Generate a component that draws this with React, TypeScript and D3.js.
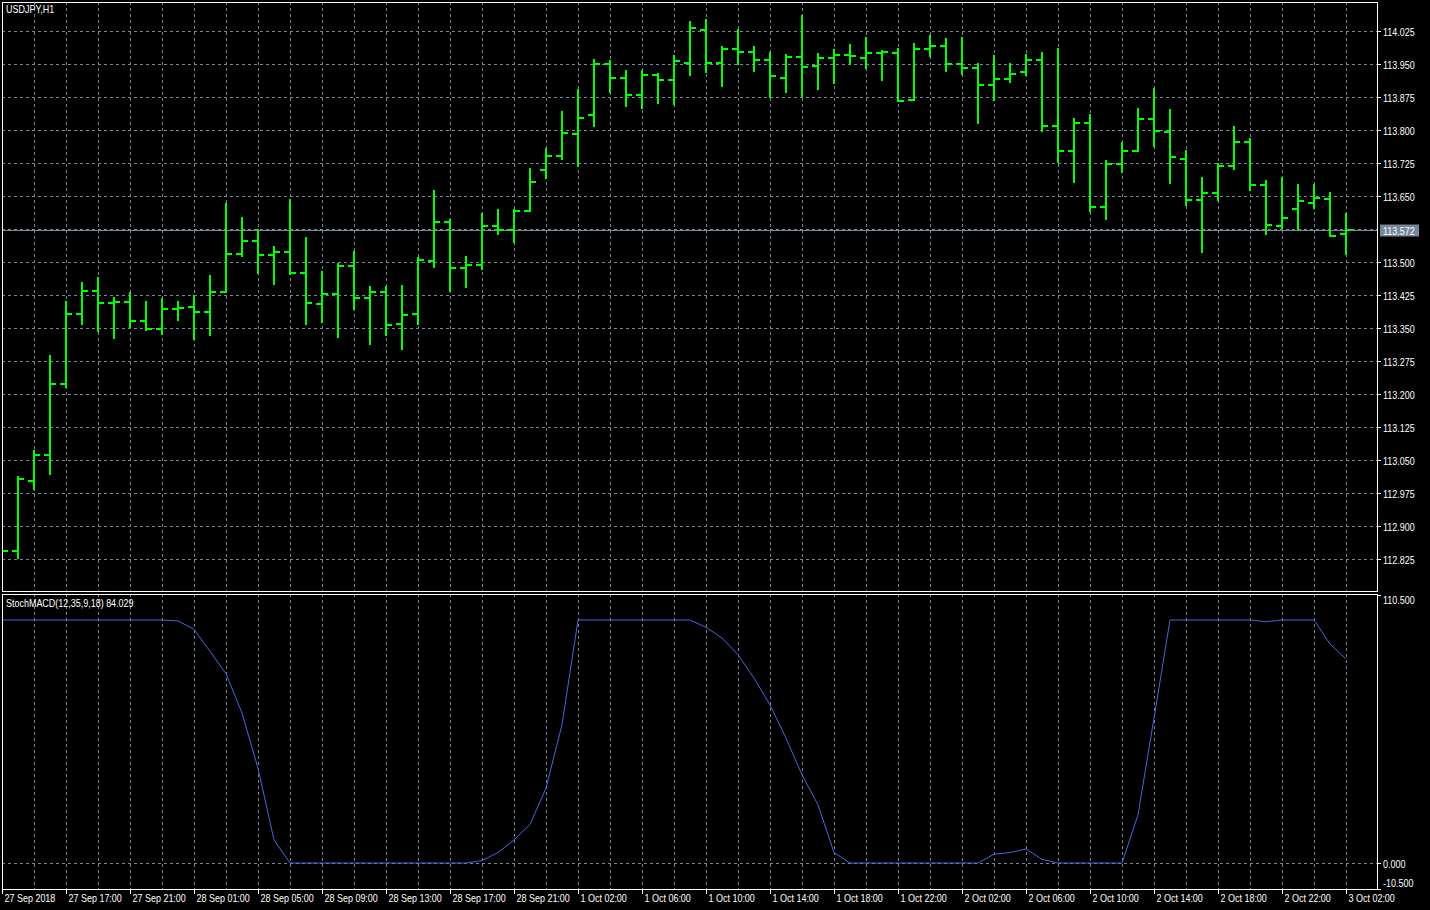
import React from 'react';
import * as d3 from 'd3';

const symbolTitle = 'USDJPY,H1';
const indicatorTitle = 'StochMACD(12,35,9,18) 84.029';
const bidPrice = 113.572;

const opens = [
  112.843, 112.843, 113.002, 113.061, 113.222, 113.381, 113.434, 113.406, 113.408, 113.365,
  113.347, 113.394, 113.397, 113.386, 113.432, 113.519, 113.547, 113.517, 113.522, 113.474,
  113.404, 113.427, 113.490, 113.418, 113.432, 113.359, 113.382, 113.503, 113.592, 113.486,
  113.493, 113.581, 113.572, 113.615, 113.708, 113.740, 113.791, 113.833, 113.949, 113.919,
  113.879, 113.924, 113.913, 113.953, 114.028, 113.953, 113.985, 113.978, 113.960, 113.919,
  113.967, 113.946, 113.963, 113.971, 113.963, 113.976, 113.976, 113.869, 113.985, 113.992,
  113.949, 113.942, 113.903, 113.915, 113.931, 113.958, 113.808, 113.753, 113.815, 113.624,
  113.722, 113.753, 113.824, 113.795, 113.735, 113.642, 113.656, 113.718, 113.772, 113.676,
  113.581, 113.620, 113.635, 113.643, 113.563,
];
const highs = [
  112.846, 113.012, 113.071, 113.287, 113.408, 113.453, 113.463, 113.418, 113.430, 113.408,
  113.416, 113.410, 113.422, 113.468, 113.632, 113.601, 113.573, 113.533, 113.641, 113.555,
  113.478, 113.496, 113.522, 113.444, 113.444, 113.446, 113.508, 113.662, 113.596, 113.512,
  113.610, 113.619, 113.619, 113.712, 113.757, 113.841, 113.892, 113.960, 113.957, 113.934,
  113.934, 113.928, 113.969, 114.046, 114.049, 113.989, 114.028, 113.989, 113.975, 113.971,
  114.059, 113.973, 113.981, 113.993, 114.008, 113.979, 113.985, 113.996, 114.014, 114.007,
  114.010, 113.950, 113.969, 113.951, 113.970, 113.975, 113.985, 113.825, 113.834, 113.730,
  113.771, 113.848, 113.893, 113.846, 113.752, 113.691, 113.722, 113.806, 113.780, 113.684,
  113.692, 113.675, 113.674, 113.657, 113.608,
];
const lows = [
  112.840, 112.827, 112.983, 113.018, 113.216, 113.358, 113.343, 113.327, 113.352, 113.346,
  113.337, 113.368, 113.324, 113.334, 113.431, 113.513, 113.474, 113.451, 113.473, 113.358,
  113.363, 113.329, 113.393, 113.313, 113.335, 113.303, 113.358, 113.488, 113.434, 113.444,
  113.484, 113.563, 113.545, 113.615, 113.690, 113.735, 113.719, 113.808, 113.887, 113.854,
  113.849, 113.861, 113.858, 113.924, 113.931, 113.899, 113.951, 113.934, 113.875, 113.886,
  113.878, 113.893, 113.906, 113.949, 113.940, 113.913, 113.866, 113.869, 113.969, 113.935,
  113.928, 113.817, 113.868, 113.910, 113.924, 113.797, 113.728, 113.681, 113.616, 113.597,
  113.704, 113.752, 113.763, 113.679, 113.629, 113.523, 113.640, 113.711, 113.663, 113.563,
  113.578, 113.575, 113.623, 113.560, 113.518,
];
const closes = [
  112.843, 113.006, 113.061, 113.222, 113.381, 113.434, 113.406, 113.410, 113.365, 113.347,
  113.394, 113.396, 113.386, 113.432, 113.519, 113.547, 113.517, 113.522, 113.474, 113.406,
  113.427, 113.490, 113.418, 113.432, 113.356, 113.379, 113.505, 113.592, 113.487, 113.493,
  113.581, 113.572, 113.615, 113.681, 113.740, 113.793, 113.828, 113.949, 113.919, 113.879,
  113.924, 113.913, 113.957, 114.031, 113.953, 113.983, 113.978, 113.960, 113.922, 113.967,
  113.944, 113.963, 113.971, 113.969, 113.976, 113.978, 113.867, 113.985, 113.990, 113.949,
  113.940, 113.903, 113.915, 113.928, 113.958, 113.808, 113.753, 113.815, 113.624, 113.722,
  113.752, 113.824, 113.797, 113.738, 113.642, 113.656, 113.718, 113.772, 113.676, 113.583,
  113.600, 113.638, 113.646, 113.560, 113.572,
];

const stochMacd = [
  100, 100, 100, 100, 100, 100, 100, 100, 100, 100,
  100, 99.6, 96.2, 87.1, 77.9, 61.7, 39.0, 9.5, 0, 0,
  0, 0, 0, 0, 0, 0, 0, 0, 0, 0,
  1.0, 4.3, 9.5, 15.9, 30.8, 56.9, 100, 100, 100, 100,
  100, 100, 100, 100, 97.0, 92.6, 85.7, 76.1, 65.1, 51.4,
  36.3, 23.9, 4.3, 0, 0, 0, 0, 0, 0, 0,
  0, 0, 3.6, 4.3, 5.8, 1.5, 0, 0, 0, 0,
  0, 19.8, 59.6, 100, 100, 100, 100, 100, 100, 99.3,
  100, 100, 100, 90.1, 84.029,
];

const timeLabels = [
  '27 Sep 2018', '27 Sep 17:00', '27 Sep 21:00', '28 Sep 01:00', '28 Sep 05:00', '28 Sep 09:00',
  '28 Sep 13:00', '28 Sep 17:00', '28 Sep 21:00', '1 Oct 02:00', '1 Oct 06:00', '1 Oct 10:00',
  '1 Oct 14:00', '1 Oct 18:00', '1 Oct 22:00', '2 Oct 02:00', '2 Oct 06:00', '2 Oct 10:00',
  '2 Oct 14:00', '2 Oct 18:00', '2 Oct 22:00', '3 Oct 02:00',
];

const priceTicks = [
  114.025, 113.95, 113.875, 113.8, 113.725, 113.65, 113.575, 113.5, 113.425, 113.35,
  113.275, 113.2, 113.125, 113.05, 112.975, 112.9, 112.825,
];
const priceLabels = [
  '114.025', '113.950', '113.875', '113.800', '113.725', '113.650', '', '113.500', '113.425', '113.350',
  '113.275', '113.200', '113.125', '113.050', '112.975', '112.900', '112.825',
];
const indTicks = [110.5, 0, -10.5];
const indLabels = ['110.500', '0.000', '-10.500'];

const W = 1430;
const H = 910;
const LEFT = 2;
const RIGHT = 1377;
const P_TOP = 2;
const P_BOTTOM = 591;
const I_TOP = 594;
const I_BOTTOM = 889;
const GRID = '#778899';
const FONT = '"Liberation Sans", Arial, sans-serif';

function Txt(props: { x: number; y: number; children: React.ReactNode; fill?: string; middle?: boolean }) {
  const { x, y, children, fill = '#fff', middle = false } = props;
  return (
    <text
      transform={`translate(${x},${y}) scale(0.88,1)`}
      fill={fill}
      fontSize={10.2}
      dominantBaseline={middle ? 'middle' : undefined}
    >
      {children}
    </text>
  );
}

export default function App() {
  const n = closes.length;
  const x = d3.scaleLinear().domain([0, n - 1]).range([2, 2 + 16 * (n - 1)]);
  const yP = d3.scaleLinear().domain([112.825, 114.025]).range([559, 31]);
  const yI = d3.scaleLinear().domain([0, 100]).range([863, 620]);

  const gridXs = d3.range(2, n, 2).map((i) => Math.round(x(i)) + 0.5);
  const line = d3
    .line<number>()
    .x((_, i) => x(i))
    .y((d) => yI(d));

  const bidY = Math.round(yP(bidPrice)) + 0.5;

  return (
    <svg
      width={W}
      height={H}
      style={{ position: 'fixed', left: 0, top: 0, background: '#000', display: 'block' }}
      fontFamily={FONT}
    >
      <defs>
        <clipPath id="pclip">
          <rect x={LEFT + 1} y={P_TOP + 1} width={RIGHT - LEFT - 1} height={P_BOTTOM - P_TOP - 1} />
        </clipPath>
        <clipPath id="iclip">
          <rect x={LEFT + 1} y={I_TOP + 1} width={RIGHT - LEFT - 1} height={I_BOTTOM - I_TOP - 1} />
        </clipPath>
      </defs>
      <rect x={0} y={0} width={W} height={H} fill="#000" />

      {/* price panel grid */}
      <g clipPath="url(#pclip)" shapeRendering="crispEdges">
        {priceTicks.map((p, k) => (
          <line
            key={'ph' + k}
            x1={LEFT}
            x2={RIGHT}
            y1={Math.round(yP(p)) + 0.5}
            y2={Math.round(yP(p)) + 0.5}
            stroke={GRID}
            strokeDasharray="3,3"
          />
        ))}
        {gridXs.map((gx, k) => (
          <line key={'pv' + k} x1={gx} x2={gx} y1={P_TOP} y2={P_BOTTOM} stroke={GRID} strokeDasharray="3,3" />
        ))}
        <line x1={LEFT} x2={RIGHT} y1={bidY} y2={bidY} stroke={GRID} strokeWidth={1} />
        {closes.map((c, i) => {
          const bx = Math.round(x(i));
          const yo = Math.round(yP(opens[i]));
          const yc = Math.round(yP(c));
          const yh = Math.round(yP(highs[i]));
          const yl = Math.round(yP(lows[i]));
          return (
            <g key={'b' + i} stroke="#00FF00" strokeWidth={2}>
              <line x1={bx} x2={bx} y1={yh - 1} y2={yl + 1} />
              <line x1={bx - 6} x2={bx} y1={yo} y2={yo} />
              <line x1={bx} x2={bx + 6} y1={yc} y2={yc} />
            </g>
          );
        })}
      </g>

      {/* indicator panel grid + line */}
      <g clipPath="url(#iclip)">
        <g shapeRendering="crispEdges">
          {gridXs.map((gx, k) => (
            <line key={'iv' + k} x1={gx} x2={gx} y1={I_TOP} y2={I_BOTTOM} stroke={GRID} strokeDasharray="3,3" />
          ))}
          <line
            x1={LEFT}
            x2={RIGHT}
            y1={Math.round(yI(0)) + 0.5}
            y2={Math.round(yI(0)) + 0.5}
            stroke={GRID}
            strokeDasharray="3,3"
          />
        </g>
        <path d={line(stochMacd) || ''} fill="none" stroke="#4169E1" strokeWidth={1} />
      </g>

      {/* frames */}
      <g shapeRendering="crispEdges" fill="none" stroke="#fff" strokeWidth={1}>
        <rect x={LEFT + 0.5} y={P_TOP + 0.5} width={RIGHT - LEFT} height={P_BOTTOM - P_TOP} />
        <rect x={LEFT + 0.5} y={I_TOP + 0.5} width={RIGHT - LEFT} height={I_BOTTOM - I_TOP} />
      </g>

      {/* titles */}
      <Txt x={6} y={13}>{symbolTitle}</Txt>
      <Txt x={6} y={607}>{indicatorTitle}</Txt>

      {/* price axis */}
      <g>
        {priceTicks.map((p, k) => {
          const ty = Math.round(yP(p)) + 0.5;
          if (priceLabels[k] === '') return null;
          return (
            <g key={'pt' + k}>
              <line x1={RIGHT} x2={RIGHT + 4} y1={ty} y2={ty} stroke="#fff" shapeRendering="crispEdges" />
              <Txt x={RIGHT + 6} y={ty + 4}>{priceLabels[k]}</Txt>
            </g>
          );
        })}
        <rect x={RIGHT + 3} y={bidY - 6} width={39} height={12} fill={GRID} />
        <Txt x={RIGHT + 6} y={bidY + 4}>{bidPrice.toFixed(3)}</Txt>
      </g>

      {/* indicator axis */}
      <g>
        {indTicks.map((v, k) => {
          const ty = k === 0 ? I_TOP + 1 : k === indTicks.length - 1 ? I_BOTTOM : Math.round(yI(v)) + 0.5;
          const ly = k === 0 ? ty + 5 : k === indTicks.length - 1 ? ty - 6 : ty;
          return (
            <g key={'it' + k}>
              <line x1={RIGHT} x2={RIGHT + 4} y1={ty} y2={ty} stroke="#fff" shapeRendering="crispEdges" />
              <Txt x={RIGHT + 6} y={ly + 4}>{indLabels[k]}</Txt>
            </g>
          );
        })}
      </g>

      {/* time axis */}
      <g>
        {timeLabels.map((t, k) => {
          const tx = Math.round(x(k * 4)) + 0.5;
          return (
            <g key={'tl' + k}>
              <line x1={tx} x2={tx} y1={I_BOTTOM} y2={I_BOTTOM + 5} stroke="#fff" shapeRendering="crispEdges" />
              <Txt x={tx + 2} y={902}>{t}</Txt>
            </g>
          );
        })}
      </g>
    </svg>
  );
}
